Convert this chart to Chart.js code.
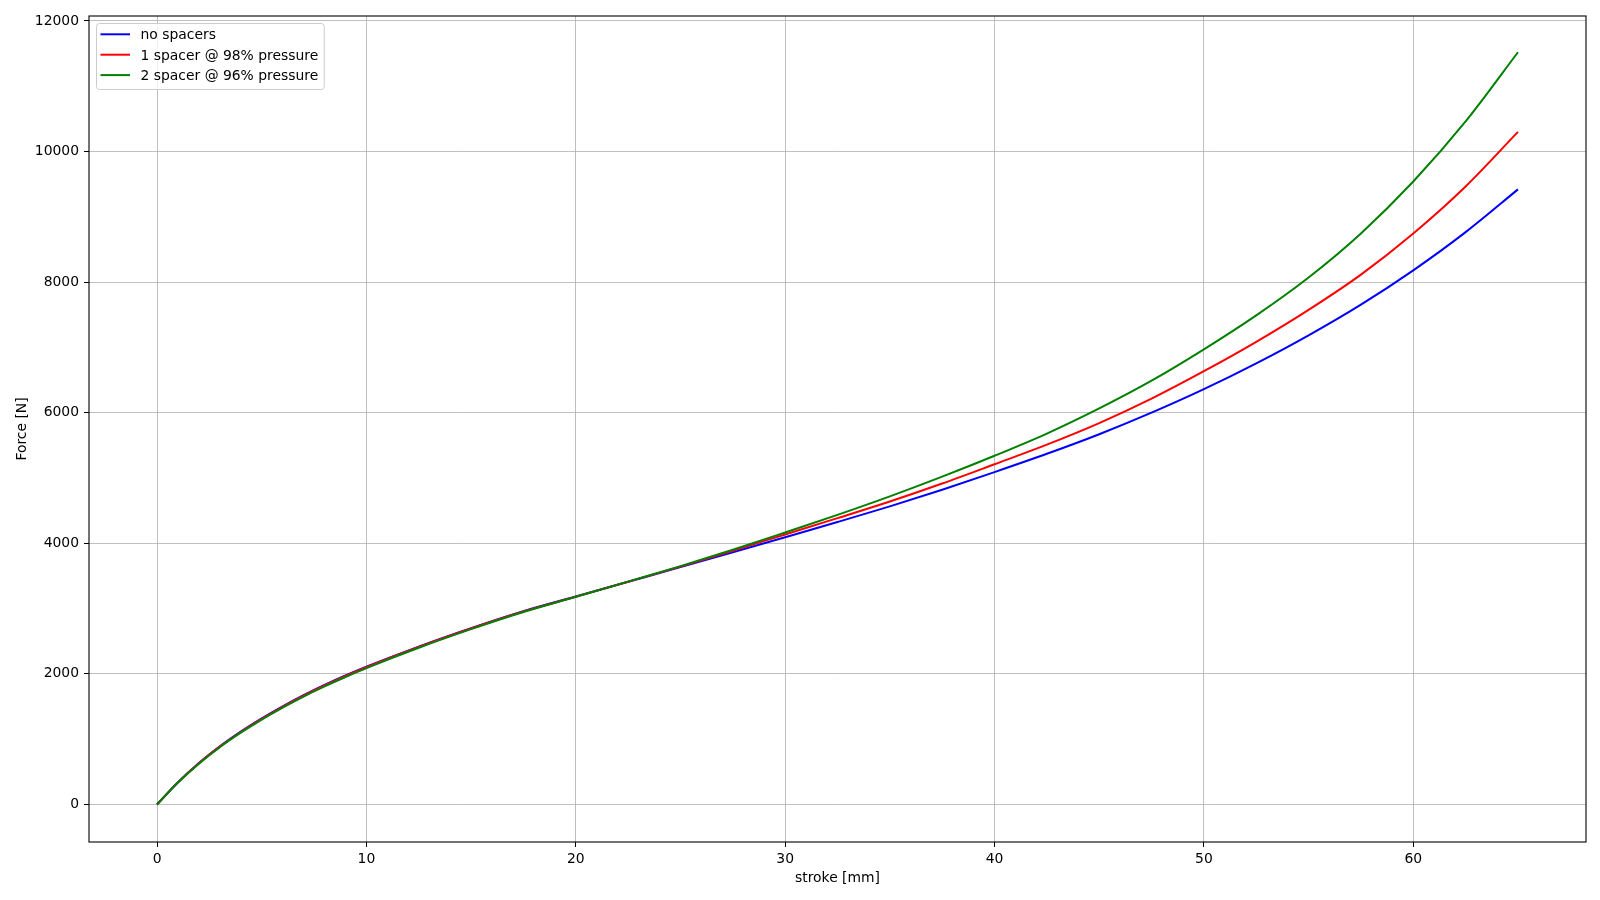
<!DOCTYPE html>
<html>
<head>
<meta charset="utf-8">
<script src="https://cdn.jsdelivr.net/npm/chart.js@4"></script>
<style>
  html, body { margin: 0; padding: 0; background: #fff; }
  canvas { display: block; }
</style>
</head>
<body>
<canvas id="grafica" width="1600" height="900"></canvas>
<script>
// stroke [mm]
const stroke = [0, 1, 2, 3, 4, 5, 6, 7, 8, 9, 10, 12.5, 15, 17.5, 20, 22.5, 25, 27.5, 30, 32.5,
  35, 37.5, 40, 42.5, 45, 47.5, 50, 52.5, 55, 57.5, 60, 62.5, 65];

// force [N] per configuration
const noSpacers = [0, 340, 635, 890, 1115, 1318, 1503, 1673, 1830, 1975, 2110, 2418, 2700, 2960, 3185,
  3410, 3635, 3862, 4092, 4325, 4565, 4820, 5090, 5370, 5670, 6000, 6360, 6755, 7185, 7655, 8180, 8765, 9420];
const oneSpacer = [0, 338, 631, 885, 1109, 1311, 1496, 1666, 1822, 1967, 2102, 2412, 2695, 2955, 3182,
  3410, 3642, 3885, 4135, 4385, 4640, 4915, 5210, 5510, 5840, 6215, 6635, 7085, 7575, 8115, 8745, 9465, 10300];
const twoSpacer = [0, 335, 625, 877, 1099, 1300, 1484, 1653, 1808, 1952, 2088, 2400, 2685, 2948, 3180,
  3413, 3650, 3900, 4165, 4435, 4718, 5020, 5340, 5680, 6065, 6490, 6970, 7490, 8070, 8745, 9540, 10460, 11520];

const xTicks = [0, 10, 20, 30, 40, 50, 60];
const yTicks = [0, 2000, 4000, 6000, 8000, 10000, 12000];

const fuente = 'DejaVu Sans';
const tam = 13.9;

function puntos(ys) {
  return stroke.map((x, i) => ({x: x, y: ys[i]}));
}

// marco negro alrededor del area de la grafica
const marco = {
  id: 'marco',
  afterDraw(chart) {
    const {ctx, chartArea: a} = chart;
    ctx.save();
    ctx.strokeStyle = '#000';
    ctx.lineWidth = 1.1;
    ctx.strokeRect(a.left, a.top, a.right - a.left, a.bottom - a.top);
    ctx.restore();
  }
};

// leyenda arriba a la izquierda, dentro de los ejes
const leyenda = {
  id: 'leyenda',
  afterDraw(chart) {
    const {ctx, chartArea: a} = chart;
    const sets = chart.data.datasets;
    ctx.save();
    ctx.font = tam + 'px "' + fuente + '"';
    let maxW = 0;
    sets.forEach(d => { maxW = Math.max(maxW, ctx.measureText(d.label).width); });
    const bx = a.left + 7.5, by = a.top + 7.5;
    const bw = 44 + maxW + 6, bh = 66;
    ctx.beginPath();
    ctx.roundRect(bx, by, bw, bh, 3);
    ctx.fillStyle = 'rgba(255,255,255,0.8)';
    ctx.fill();
    ctx.strokeStyle = '#cccccc';
    ctx.lineWidth = 1;
    ctx.stroke();
    sets.forEach((d, i) => {
      const y = by + 10.8 + i * 20.4;
      ctx.beginPath();
      ctx.moveTo(bx + 4, y);
      ctx.lineTo(bx + 33.5, y);
      ctx.strokeStyle = d.borderColor;
      ctx.lineWidth = 2;
      ctx.stroke();
      ctx.fillStyle = '#000';
      ctx.textBaseline = 'middle';
      ctx.textAlign = 'left';
      ctx.fillText(d.label, bx + 44, y + 1.5);
    });
    ctx.restore();
  }
};

new Chart(document.getElementById('grafica'), {
  type: 'line',
  data: {
    datasets: [
      {label: 'no spacers', data: puntos(noSpacers), borderColor: '#0000ff', order: 3},
      {label: '1 spacer @ 98% pressure', data: puntos(oneSpacer), borderColor: '#ff0000', order: 2},
      {label: '2 spacer @ 96% pressure', data: puntos(twoSpacer), borderColor: '#008000', order: 1}
    ]
  },
  options: {
    responsive: false,
    animation: false,
    layout: {padding: {top: 16, right: 14, left: 0, bottom: 0}},
    elements: {
      point: {radius: 0},
      line: {borderWidth: 2, cubicInterpolationMode: 'monotone', fill: false}
    },
    plugins: {
      legend: {display: false},
      tooltip: {enabled: false}
    },
    scales: {
      x: {
        type: 'linear',
        min: -3.25,
        max: 68.25,
        afterBuildTicks: s => { s.ticks = xTicks.map(v => ({value: v})); },
        afterFit: s => { s.height = 58; },
        grid: {color: '#b0b0b0', lineWidth: 0.8, tickColor: '#000', tickLength: 5, tickWidth: 1},
        border: {display: false},
        ticks: {color: '#000', padding: 4, maxRotation: 0, font: {family: fuente, size: tam}, callback: v => String(v)},
        title: {display: true, text: 'stroke [mm]', color: '#000', font: {family: fuente, size: tam}, padding: {top: 0, bottom: 13}}
      },
      y: {
        type: 'linear',
        min: -575,
        max: 12075,
        afterBuildTicks: s => { s.ticks = yTicks.map(v => ({value: v})); },
        afterFit: s => { s.width = 89; },
        grid: {color: '#b0b0b0', lineWidth: 0.8, tickColor: '#000', tickLength: 5, tickWidth: 1},
        border: {display: false},
        ticks: {color: '#000', padding: 5, font: {family: fuente, size: tam}, callback: v => String(v)},
        title: {display: true, text: 'Force [N]', color: '#000', font: {family: fuente, size: tam}, padding: {top: 14, bottom: 0}}
      }
    }
  },
  plugins: [marco, leyenda]
});
</script>
</body>
</html>
